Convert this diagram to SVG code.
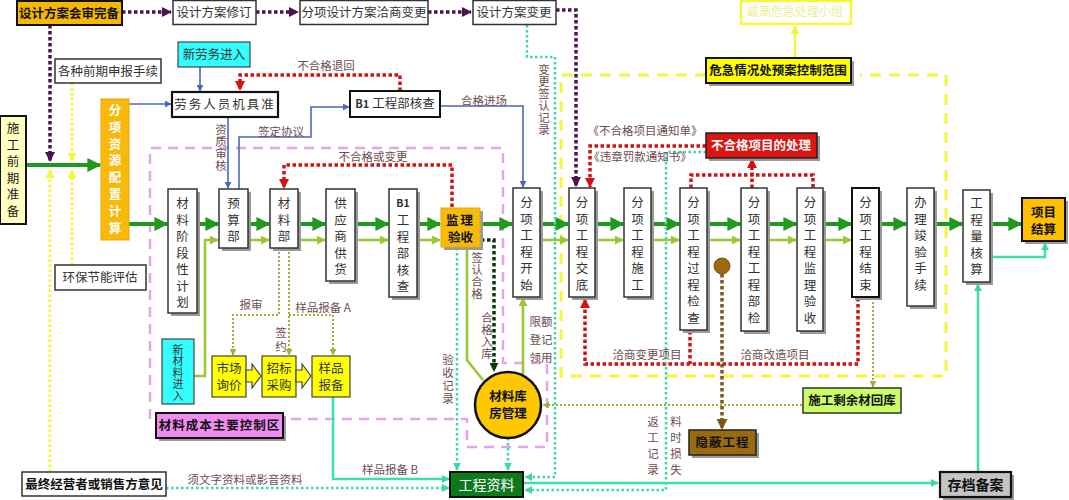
<svg xmlns="http://www.w3.org/2000/svg" width="1069" height="500" viewBox="0 0 1069 500">
<style>
text{font-family:"Noto Sans CJK SC","Noto Sans",sans-serif;}
.t{font-size:12.5px;fill:#333;text-anchor:middle;}
.b{font-size:12.5px;fill:#111;font-weight:bold;text-anchor:middle;}
.v{font-size:12.5px;fill:#333;writing-mode:vertical-rl;letter-spacing:4px;}
.lb{font-size:11.5px;fill:#6e4c50;text-anchor:middle;}
.lv{font-size:11.5px;fill:#6e4c50;writing-mode:vertical-rl;letter-spacing:0.5px;}
.box{fill:#fff;stroke:#333;stroke-width:1.5;}
.sh{fill:#9a9a9a;}
.g{fill:none;stroke:#1f9a1f;stroke-width:4;}
.lg{fill:none;stroke:#99c833;stroke-width:2.5;}
.bl{fill:none;stroke:#4a68b8;stroke-width:1.6;}
.rd{fill:none;stroke:#d01414;stroke-width:3.5;stroke-dasharray:3.5 2.5;}
.pu{fill:none;stroke:#4b1450;stroke-width:3.5;stroke-dasharray:3.5 2.5;}
.yd{fill:none;stroke:#f6f63c;stroke-width:3;stroke-dasharray:2.5 2.5;}
.yds{fill:none;stroke:#f6f63c;stroke-width:3;stroke-dasharray:11 8;}
.pk{fill:none;stroke:#e2a6e6;stroke-width:2.5;stroke-dasharray:10 7;}
.md{fill:none;stroke:#3cd8a8;stroke-width:2.5;stroke-dasharray:2.5 2.5;}
.ms{fill:none;stroke:#3ce0a8;stroke-width:2.5;}
.ol{fill:none;stroke:#a0b038;stroke-width:2;stroke-dasharray:2 2;}
.dg{fill:none;stroke:#0a3a0a;stroke-width:3.5;stroke-dasharray:3.5 2.5;}
.br{fill:none;stroke:#7a5a18;stroke-width:3.5;stroke-dasharray:3.5 2.5;}
.ys{fill:none;stroke:#f6f63c;stroke-width:2.5;}
</style>
<defs>
<marker id="aG" viewBox="0 0 10 10" refX="9" refY="5" markerWidth="14" markerHeight="14" markerUnits="userSpaceOnUse" orient="auto"><path d="M0,0 L10,5 L0,10 z" fill="#1f9a1f"/></marker>
<marker id="aLG" viewBox="0 0 10 10" refX="9" refY="5" markerWidth="9" markerHeight="9" markerUnits="userSpaceOnUse" orient="auto"><path d="M0,0 L10,5 L0,10 z" fill="#99c833"/></marker>
<marker id="aB" viewBox="0 0 10 10" refX="9" refY="5" markerWidth="7" markerHeight="7" markerUnits="userSpaceOnUse" orient="auto"><path d="M0,0 L10,5 L0,10 z" fill="#4a68b8"/></marker>
<marker id="aR" viewBox="0 0 10 10" refX="9" refY="5" markerWidth="10" markerHeight="10" markerUnits="userSpaceOnUse" orient="auto"><path d="M0,0 L10,5 L0,10 z" fill="#d01414"/></marker>
<marker id="aP" viewBox="0 0 10 10" refX="9" refY="5" markerWidth="10" markerHeight="10" markerUnits="userSpaceOnUse" orient="auto"><path d="M0,0 L10,5 L0,10 z" fill="#4b1450"/></marker>
<marker id="aY" viewBox="0 0 10 10" refX="9" refY="5" markerWidth="9" markerHeight="9" markerUnits="userSpaceOnUse" orient="auto"><path d="M0,0 L10,5 L0,10 z" fill="#f6f63c"/></marker>
<marker id="aM" viewBox="0 0 10 10" refX="9" refY="5" markerWidth="8" markerHeight="8" markerUnits="userSpaceOnUse" orient="auto"><path d="M0,0 L10,5 L0,10 z" fill="#3cd8a8"/></marker>
<marker id="aO" viewBox="0 0 10 10" refX="9" refY="5" markerWidth="7" markerHeight="7" markerUnits="userSpaceOnUse" orient="auto"><path d="M0,0 L10,5 L0,10 z" fill="#a0b038"/></marker>
<marker id="aD" viewBox="0 0 10 10" refX="9" refY="5" markerWidth="9" markerHeight="9" markerUnits="userSpaceOnUse" orient="auto"><path d="M0,0 L10,5 L0,10 z" fill="#0a3a0a"/></marker>
<marker id="aBr" viewBox="0 0 10 10" refX="9" refY="5" markerWidth="11" markerHeight="11" markerUnits="userSpaceOnUse" orient="auto"><path d="M0,0 L10,5 L0,10 z" fill="#7a5a18"/></marker>
</defs>

<!-- regions -->
<g id="regions">
<path class="yds" d="M706,75 H561 V376 H946 V75 H860"/>
<path class="pk" d="M150,419 V148 H503 V363 H547 V447 H467 V419 H150"/>
</g>

<!-- connectors -->
<g id="connectors">
<path class="g" d="M26,165 H100" marker-end="url(#aG)"/>
<path class="g" d="M129,224 H167" marker-end="url(#aG)"/>
<path class="g" d="M197,224 H218" marker-end="url(#aG)"/>
<path class="g" d="M248,224 H269" marker-end="url(#aG)"/>
<path class="g" d="M298,224 H325" marker-end="url(#aG)"/>
<path class="g" d="M355,224 H388" marker-end="url(#aG)"/>
<path class="g" d="M417,224 H440" marker-end="url(#aG)"/>
<path class="g" d="M480,224 H512" marker-end="url(#aG)"/>
<path class="g" d="M540,224 H568" marker-end="url(#aG)"/>
<path class="g" d="M595,224 H623" marker-end="url(#aG)"/>
<path class="g" d="M651,224 H679" marker-end="url(#aG)"/>
<path class="g" d="M707,224 H740" marker-end="url(#aG)"/>
<path class="g" d="M767,224 H796" marker-end="url(#aG)"/>
<path class="g" d="M823,224 H851" marker-end="url(#aG)"/>
<path class="g" d="M879,224 H906" marker-end="url(#aG)"/>
<path class="g" d="M934,224 H962" marker-end="url(#aG)"/>
<path class="g" d="M990,224 H1021" marker-end="url(#aG)"/>
<path class="lg" d="M194,376 H205 V240 H218" marker-end="url(#aLG)"/>
<path class="lg" d="M248,240 H269" marker-end="url(#aLG)"/>
<path class="lg" d="M298,240 H325" marker-end="url(#aLG)"/>
<path class="lg" d="M355,240 H388" marker-end="url(#aLG)"/>
<path class="lg" d="M417,240 H440" marker-end="url(#aLG)"/>
<path class="lg" d="M540,240 H568" marker-end="url(#aLG)"/>
<path class="lg" d="M595,240 H623" marker-end="url(#aLG)"/>
<path class="lg" d="M651,240 H679" marker-end="url(#aLG)"/>
<path class="lg" d="M707,240 H740" marker-end="url(#aLG)"/>
<path class="lg" d="M767,240 H796" marker-end="url(#aLG)"/>
<path class="lg" d="M823,240 H851" marker-end="url(#aLG)"/>
<path class="lg" d="M467,247 V360 L483,380"/>
<path class="lg" d="M523,378 V298" marker-end="url(#aLG)"/>
<path class="bl" d="M129,104 H171" marker-end="url(#aB)"/>
<path class="bl" d="M200,67 V91" marker-end="url(#aB)"/>
<path class="bl" d="M228,117 V188" marker-end="url(#aB)"/>
<path class="bl" d="M239,189 V137 H311 V107 H349" marker-end="url(#aB)"/>
<path class="bl" d="M440,106 H523 V187" marker-end="url(#aB)"/>
<path class="pu" d="M122,12 H171" marker-end="url(#aP)"/>
<path class="pu" d="M256,12 H298" marker-end="url(#aP)"/>
<path class="pu" d="M428,12 H471" marker-end="url(#aP)"/>
<path class="pu" d="M556,10 H576 V186" marker-end="url(#aP)"/>
<path class="pu" d="M50,25 V161" marker-end="url(#aP)"/>
<path class="yd" d="M72,83 V161" marker-end="url(#aY)"/>
<path class="yd" d="M72,265 V170" marker-end="url(#aY)"/>
<path class="yd" d="M50,472 V170" marker-end="url(#aY)"/>
<path class="ys" d="M795,58 V26" marker-end="url(#aY)"/>
<path class="rd" d="M400,91 V75 H240 V90" marker-end="url(#aR)"/>
<path class="rd" d="M452,207 V165 H284 V188" marker-end="url(#aR)"/>
<path class="rd" d="M706,146 H590 V187" marker-end="url(#aR)"/>
<path class="rd" d="M691,188 V175 H813 V188"/>
<path class="rd" d="M752,188 V159" marker-end="url(#aR)"/>
<path class="rd" d="M858,298 V364 H585 V299" marker-end="url(#aR)"/>
<path class="rd" d="M690,331 V364"/>
<path class="ol" d="M279,248 V315 H233 V355" marker-end="url(#aO)"/>
<path class="ol" d="M289,248 V355" marker-end="url(#aO)"/>
<path class="ol" d="M289,315 H333 V355" marker-end="url(#aO)"/>
<path class="ol" d="M873,298 V387" marker-end="url(#aO)"/>
<path class="ol" d="M802,405 H543" marker-end="url(#aO)"/>
<path class="dg" d="M481,240 H494 V371" marker-end="url(#aD)"/>
<path class="br" d="M722,274 V429" marker-end="url(#aBr)"/>
<path class="md" d="M457,248 V470" marker-end="url(#aM)"/>
<path class="md" d="M508,438 V470" marker-end="url(#aM)"/>
<path class="md" d="M527,25 V57 H555 V477 H525" marker-end="url(#aM)"/>
<path class="md" d="M706,152 H666 V490 H525" marker-end="url(#aM)"/>
<path class="md" d="M166,488 H449" marker-end="url(#aM)"/>
<path class="ms" d="M333,397 V479 H449" marker-end="url(#aM)"/>
<path class="ms" d="M523,483 H938" marker-end="url(#aM)"/>
<path class="ms" d="M978,471 V284" marker-end="url(#aM)"/>
<path class="ms" d="M990,257 H1045 V243" marker-end="url(#aM)"/>
</g>

<!-- labels -->
<g id="labels">
<text class="lb" x="326" y="70">不合格退回</text>
<text class="lb" x="281" y="136">签定协议</text>
<text class="lb" x="484" y="105">合格进场</text>
<text class="lb" x="373" y="161">不合格或变更</text>
<text class="lb" x="645" y="135">《不合格项目通知单》</text>
<text class="lb" x="640" y="161">《违章罚款通知书》</text>
<text class="lb" x="251" y="309">报审</text>
<text class="lb" x="323" y="312">样品报备 A</text>
<text class="lb" x="390" y="474">样品报备 B</text>
<text class="lb" x="245" y="484">须文字资料或影音资料</text>
<text class="lb" x="647" y="359">洽商变更项目</text>
<text class="lb" x="775" y="359">洽商改造项目</text>
<text class="lb" x="541" y="326">限额</text>
<text class="lb" x="541" y="344">登记</text>
<text class="lb" x="541" y="362">领用</text>
<text class="lv" x="221" y="124">资质审核</text>
<text class="lv" x="544" y="64">变更签认记录</text>
<text class="lv" x="281" y="327" style="letter-spacing:2.5px">签约</text>
<text class="lv" x="477" y="252">签认合格</text>
<text class="lv" x="487" y="312">合格入库</text>
<text class="lv" x="448" y="354" style="letter-spacing:1.5px">验收记录</text>
<text class="lv" x="653" y="416" style="letter-spacing:4.5px">返工记录</text>
<text class="lv" x="676" y="416" style="letter-spacing:4.5px">料时损失</text>
</g>

<!-- nodes: top row -->
<g id="n-huishen"><rect x="17" y="1" width="105" height="24" fill="#f5b800" stroke="#111" stroke-width="2"/><text class="b" x="69" y="18">设计方案会审完备</text></g>
<g id="n-xiuding"><rect class="box" x="173" y="0.5" width="83" height="24" stroke="#555"/><text class="t" x="214" y="17">设计方案修订</text></g>
<g id="n-qiashang"><rect class="box" x="300" y="0.5" width="128" height="24" stroke="#555"/><text class="t" x="364" y="17">分项设计方案洽商变更</text></g>
<g id="n-biangeng"><rect class="box" x="473" y="0.5" width="83" height="24" stroke="#555"/><text class="t" x="514" y="17">设计方案变更</text></g>
<g id="n-zuigao"><rect x="741" y="1" width="110" height="23" fill="#fff" stroke="#f6f63c" stroke-width="2.5"/><text x="795" y="16" font-size="12" text-anchor="middle" fill="#eeee90">最高危急处理小组</text></g>
<g id="n-weiji"><rect class="sh" x="709" y="61" width="145" height="25"/><rect x="706" y="58" width="145" height="25" fill="#ffff00" stroke="#111" stroke-width="2"/><text class="b" x="778" y="75">危急情况处预案控制范围</text></g>

<g id="n-gezhong"><rect class="box" x="55" y="59" width="106" height="24"/><text class="t" x="108" y="76">各种前期申报手续</text></g>
<g id="n-xinlaowu"><rect x="178" y="42" width="72" height="25" fill="#33ffff" stroke="#444" stroke-width="1.2"/><text class="t" x="214" y="59">新劳务进入</text></g>
<g id="n-laowu"><rect x="172" y="92" width="106" height="25" fill="#fff" stroke="#111" stroke-width="2.2"/><text class="t" x="225" y="109" letter-spacing="2">劳务人员机具准</text></g>
<g id="n-b1top"><rect x="350" y="91" width="90" height="26" fill="#fff" stroke="#111" stroke-width="2"/><text class="t" x="395" y="108"><tspan font-weight="bold" font-size="11">B1</tspan> 工程部核查</text></g>
<g id="n-buhege"><rect class="sh" x="709" y="136" width="111" height="25"/><rect x="706" y="133" width="111" height="25" fill="#dd1414" stroke="#222" stroke-width="1.5"/><text x="761" y="150" font-size="12.5" font-weight="bold" fill="#fff" text-anchor="middle">不合格项目的处理</text></g>

<g id="n-shigong"><rect x="0" y="116" width="26" height="108" fill="#ffffc0" stroke="#111" stroke-width="2"/><text class="v" x="13" y="122" style="fill:#222">施工前期准备</text></g>
<g id="n-ziyuan"><rect x="101" y="99" width="28" height="141" fill="#f8b90c" stroke="#e8a800" stroke-width="1"/><text class="v" x="115" y="104" style="fill:#fff;font-weight:bold;letter-spacing:4.3px">分项资源配置计算</text></g>
<g id="n-huanbao"><rect class="box" x="55" y="265" width="91" height="25"/><text class="t" x="100" y="282">环保节能评估</text></g>

<!-- process row -->
<g id="n-jieduan"><rect class="sh" x="171" y="192" width="29" height="124"/><rect class="box" x="168" y="189" width="29" height="124"/><text class="v" x="182.5" y="197">材料阶段性计划</text></g>
<g id="n-yusuan"><rect class="sh" x="222" y="192" width="29" height="59"/><rect class="box" x="219" y="189" width="29" height="59"/><text class="v" x="233.5" y="197">预算部</text></g>
<g id="n-cailiao"><rect class="sh" x="273" y="192" width="28" height="59"/><rect class="box" x="270" y="189" width="28" height="59"/><text class="v" x="284" y="197">材料部</text></g>
<g id="n-gongying"><rect class="sh" x="329" y="192" width="29" height="92"/><rect class="box" x="326" y="189" width="29" height="92"/><text class="v" x="340.5" y="197">供应商供货</text></g>
<g id="n-b1"><rect class="sh" x="392" y="192" width="28" height="108"/><rect class="box" x="389" y="189" width="28" height="108"/><text x="403" y="207" font-weight="bold" font-size="10.5" fill="#333" text-anchor="middle">B1</text><text class="v" x="403" y="214">工程部核查</text></g>
<g id="n-jianli"><rect class="sh" x="444" y="211" width="39" height="39"/><rect x="441" y="208" width="39" height="39" fill="#f8bb0c" stroke="#e8a800" stroke-width="1"/><text class="b" x="460.5" y="225" letter-spacing="2">监理</text><text class="b" x="460.5" y="242">验收</text></g>
<g id="n-kaishi"><rect class="sh" x="516" y="191" width="27" height="109"/><rect class="box" x="513" y="188" width="27" height="109"/><text class="v" x="526.5" y="196">分项工程开始</text></g>
<g id="n-jiaodi"><rect class="sh" x="572" y="191" width="26" height="109"/><rect class="box" x="569" y="188" width="26" height="109"/><text class="v" x="582" y="196">分项工程交底</text></g>
<g id="n-shigong2"><rect class="sh" x="627" y="191" width="27" height="109"/><rect class="box" x="624" y="188" width="27" height="109"/><text class="v" x="637.5" y="196">分项工程施工</text></g>
<g id="n-guocheng"><rect class="sh" x="683" y="191" width="27" height="142"/><rect class="box" x="680" y="188" width="27" height="142"/><text class="v" x="693.5" y="196">分项工程过程检查</text></g>
<g id="n-bujian"><rect class="sh" x="744" y="191" width="26" height="143"/><rect class="box" x="741" y="188" width="26" height="143"/><text class="v" x="754" y="196">分项工程工程部检</text></g>
<g id="n-jianliys"><rect class="sh" x="800" y="191" width="26" height="143"/><rect class="box" x="797" y="188" width="26" height="143"/><text class="v" x="810" y="196">分项工程监理验收</text></g>
<g id="n-jieshu"><rect class="sh" x="855" y="191" width="27" height="109"/><rect x="852" y="188" width="27" height="109" fill="#fff" stroke="#111" stroke-width="2"/><text class="v" x="865.5" y="196">分项工程结束</text></g>
<g id="n-jungong"><rect class="sh" x="910" y="191" width="27" height="118"/><rect class="box" x="907" y="188" width="27" height="118"/><text class="v" x="920.5" y="196">办理竣验手续</text></g>
<g id="n-gongchengliang"><rect class="sh" x="966" y="193" width="27" height="92"/><rect class="box" x="963" y="190" width="27" height="92"/><text class="v" x="976.5" y="197">工程量核算</text></g>
<g id="n-jiesuan"><rect class="sh" x="1025" y="201" width="43" height="43"/><rect x="1022" y="198" width="43" height="43" fill="#ffc000" stroke="#111" stroke-width="2"/><text class="b" x="1043.5" y="217">项目</text><text class="b" x="1043.5" y="234">结算</text></g>

<g id="n-dot"><circle cx="722" cy="266" r="8" fill="#a06a10" stroke="#7a5010" stroke-width="1"/></g>

<!-- material area -->
<g id="n-xincailiao"><rect x="162" y="339" width="32" height="65" fill="#33ffff" stroke="#444" stroke-width="1.2"/><text class="v" x="178" y="344" style="font-size:11px;letter-spacing:0.5px">新材料进入</text></g>
<g id="n-shichang"><rect x="212" y="356" width="34" height="41" fill="#ffff00" stroke="#444" stroke-width="1.2"/><polygon points="246,370 252,370 252,364 261,376 252,388 252,382 246,382" fill="#ffff00" stroke="#444" stroke-width="1.2"/><text class="t" x="229" y="373">市场</text><text class="t" x="229" y="390">询价</text></g>
<g id="n-zhaobiao"><rect x="262" y="356" width="34" height="41" fill="#ffff00" stroke="#444" stroke-width="1.2"/><polygon points="296,370 302,370 302,364 311,376 302,388 302,382 296,382" fill="#ffff00" stroke="#444" stroke-width="1.2"/><text class="t" x="279" y="373">招标</text><text class="t" x="279" y="390">采购</text></g>
<g id="n-yangpin"><rect x="312" y="356" width="38" height="41" fill="#ffff00" stroke="#444" stroke-width="1.2"/><text class="t" x="331" y="373">样品</text><text class="t" x="331" y="390">报备</text></g>
<g id="n-kongzhiqu"><rect class="sh" x="159" y="416" width="127" height="25"/><rect x="156" y="413" width="127" height="25" fill="#f08cf0" stroke="#111" stroke-width="2"/><text class="b" x="219.5" y="430" letter-spacing="1">材料成本主要控制区</text></g>
<g id="n-kufang"><circle cx="508" cy="405" r="33" fill="#ffc800" stroke="#111" stroke-width="2.5"/><text class="b" x="508" y="401">材料库</text><text class="b" x="508" y="418">房管理</text></g>
<g id="n-shengyu"><rect x="803" y="388" width="98" height="25" fill="#ccff66" stroke="#333" stroke-width="1.5"/><text class="b" x="852" y="405">施工剩余材回库</text></g>
<g id="n-yinbi"><rect class="sh" x="692" y="433" width="67" height="25"/><rect x="689" y="430" width="67" height="25" fill="#9a6a10" stroke="#222" stroke-width="1.5"/><text class="b" x="722.5" y="447" letter-spacing="1">隐蔽工程</text></g>

<!-- bottom -->
<g id="n-zuizhong"><rect x="22" y="472" width="144" height="24" fill="#fff" stroke="#333" stroke-width="1.5"/><text class="b" x="94" y="489">最终经营者或销售方意见</text></g>
<g id="n-ziliao"><rect x="450" y="472" width="73" height="25" fill="#0c7a1c" stroke="#111" stroke-width="2"/><text x="486.5" y="490" font-size="14" fill="#fff" text-anchor="middle">工程资料</text></g>
<g id="n-cundang"><rect class="sh" x="943" y="475" width="71" height="25"/><rect x="940" y="472" width="71" height="25" fill="#c4c4c4" stroke="#111" stroke-width="2.2"/><text class="b" x="975.5" y="490" style="font-size:14px">存档备案</text></g>
</svg>
